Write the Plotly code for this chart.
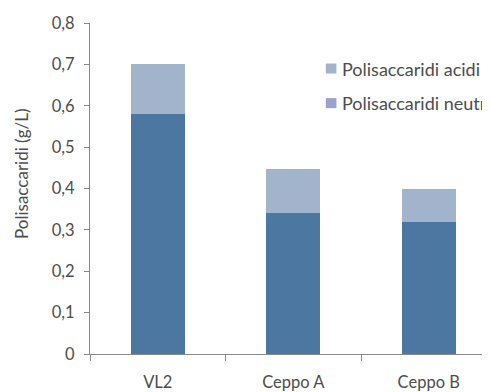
import plotly.graph_objects as go

categories = ["VL2", "Ceppo A", "Ceppo B"]
neutri = [0.58, 0.34, 0.32]
acidi = [0.12, 0.107, 0.08]
y_tickvals = [0, 0.1, 0.2, 0.3, 0.4, 0.5, 0.6, 0.7, 0.8]
y_ticktext = ["0", "0,1", "0,2", "0,3", "0,4", "0,5", "0,6", "0,7", "0,8"]
legend_labels = ["Polisaccaridi acidi", "Polisaccaridi neutri"]
y_title = "Polisaccaridi (g/L)"

dark = "#4c77a0"
light = "#a2b4cb"
legend_neutri = "#9aa2cf"
font = "Lato"
txt = "#4d4d4d"
axis_col = "#8a8a8a"

fig = go.Figure()
fig.add_trace(go.Bar(x=categories, y=neutri, marker_color=dark, marker_line_width=0,
                     showlegend=False))
fig.add_trace(go.Bar(x=categories, y=acidi, marker_color=light, marker_line_width=0,
                     showlegend=False))

# legend drawn as squares + text
legend_cols = [light, legend_neutri]
legend_y = [0.8625, 0.758]
for lab, col, yy in zip(legend_labels, legend_cols, legend_y):
    fig.add_shape(type="rect", xref="paper", yref="paper",
                  x0=0.578, x1=0.604, y0=yy - 0.0151, y1=yy + 0.0151,
                  fillcolor=col, line_width=0)
    fig.add_annotation(xref="paper", yref="paper", x=0.613, y=yy, text=lab,
                       showarrow=False, xanchor="left", yanchor="middle",
                       font=dict(family=font, size=18, color=txt))

# y axis title
fig.add_annotation(xref="paper", yref="paper", x=0, y=0.544, xshift=-68, text=y_title,
                   textangle=-90, showarrow=False, xanchor="center", yanchor="middle",
                   font=dict(family=font, size=17, color=txt))

fig.update_layout(
    width=490, height=392,
    margin=dict(l=82, r=0, t=15, b=46),
    plot_bgcolor="white", paper_bgcolor="white",
    barmode="stack", bargap=0.6,
    font=dict(family=font, size=16.5, color=txt),
    showlegend=False,
)
fig.update_xaxes(range=[-0.5, 2.511], showline=True, linecolor=axis_col, linewidth=1,
                 ticks="outside", tickson="boundaries", ticklen=6, tickcolor=axis_col,
                 showgrid=False, automargin=False, ticklabelstandoff=13,
                 tickfont=dict(family=font, size=16.5, color=txt))
fig.update_yaxes(range=[0, 0.8], tickvals=y_tickvals, ticktext=y_ticktext,
                 showline=True, linecolor=axis_col, linewidth=1,
                 ticks="outside", ticklen=5, tickcolor=axis_col, showgrid=False,
                 zeroline=False, automargin=False, ticklabelstandoff=6,
                 tickfont=dict(family=font, size=16.5, color=txt))

fig.write_html("out.html")
